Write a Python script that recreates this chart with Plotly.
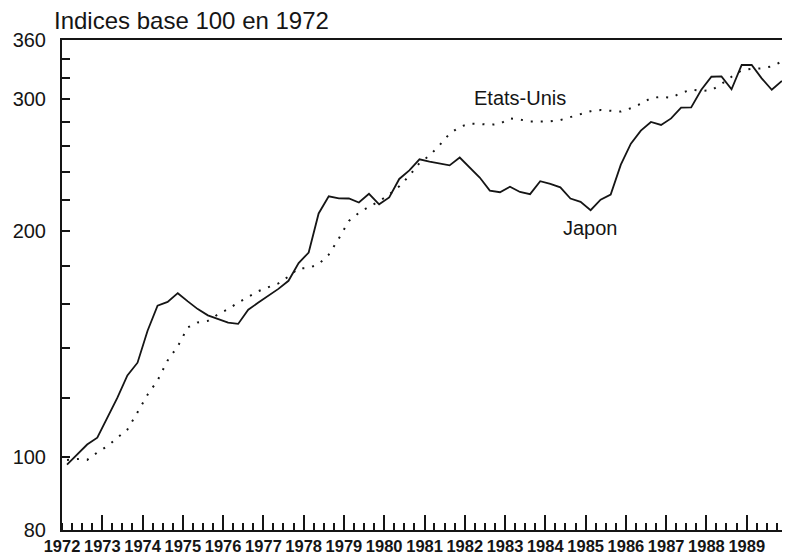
import math
import pandas as pd
import plotly.graph_objects as go

# Indices trimestriels, base 100 en 1972
years = list(range(1972, 1990))

japon = [
    97.8, 101.0, 104.0, 106.2, 113.0, 120.0, 128.6, 133.7,
    147.5, 159.3, 161.1, 165.5, 161.4, 157.6, 154.6, 152.9,
    151.2, 150.6, 157.3, 160.8, 164.0, 167.7, 171.9, 181.5,
    187.5, 211.4, 222.8, 221.4, 221.3, 218.6, 224.5, 217.4,
    222.0, 235.0, 241.3, 249.6, 247.9, 246.3, 245.0, 251.0,
    243.0, 236.0, 226.7, 225.6, 229.5, 225.8, 224.3, 233.4,
    231.4, 229.0, 221.3, 219.0, 213.5, 220.5, 224.0, 245.5,
    261.9, 272.6, 279.9, 277.4, 283.0, 292.6, 292.7, 309.0,
    321.6, 322.0, 309.4, 333.4, 333.4, 320.0, 309.0, 317.6,
]

etats_unis = [
    99.2, 99.5, 99.2, 101.5, 103.5, 106.0, 108.9, 114.8,
    121.2, 126.6, 134.6, 140.6, 149.0, 151.3, 152.0, 155.1,
    157.6, 160.8, 163.5, 166.5, 168.6, 170.5, 174.2, 178.6,
    178.8, 180.9, 186.3, 195.8, 206.6, 211.7, 215.8, 219.4,
    224.0, 229.8, 237.3, 246.8, 252.5, 260.6, 270.0, 275.7,
    278.5, 278.3, 277.4, 278.4, 283.0, 282.0, 280.3, 280.3,
    280.5, 281.6, 284.0, 286.5, 289.3, 290.4, 290.0, 289.0,
    292.0, 296.0, 301.3, 302.4, 301.5, 306.0, 309.0, 308.0,
    308.5, 314.5, 321.6, 328.0, 329.5, 330.0, 332.0, 337.0,
]

y_ticks = [80, 100, 200, 300, 360]
y_minor = list(range(80, 361, 20))

# milieu de chaque trimestre
quarters = pd.period_range("1972Q1", "1989Q4", freq="Q")
x = [(p.start_time + (p.end_time - p.start_time) / 2) for p in quarters]

ink = "#151515"

fig = go.Figure()
fig.add_trace(go.Scatter(
    x=x, y=etats_unis, mode="lines", name="Etats-Unis",
    line=dict(color=ink, width=2, dash="2px,8px"),
))
fig.add_trace(go.Scatter(
    x=x, y=japon, mode="lines", name="Japon",
    line=dict(color=ink, width=1.8),
))

# sur un axe log, la position y d'une annotation est en log10
fig.add_annotation(x="1983-05-15", y=math.log10(301), text="Etats-Unis",
                   showarrow=False, font=dict(size=20, color=ink))
fig.add_annotation(x="1985-02-10", y=math.log10(202), text="Japon",
                   showarrow=False, font=dict(size=20, color=ink))

# la page ajoute une marge de 8 px autour de la figure
fig.update_layout(
    width=782, height=548,
    margin=dict(l=54, r=3, t=32, b=26),
    paper_bgcolor="white", plot_bgcolor="white",
    showlegend=False,
    font=dict(family="Liberation Sans, Arial, sans-serif", color=ink),
    title=dict(text="Indices base 100 en 1972", x=46 / 782, xanchor="left",
               y=1 - 13 / 548, yanchor="middle",
               font=dict(size=24, color=ink)),
    xaxis=dict(
        type="date",
        range=["1972-01-01", "1990-01-01"],
        tickvals=[f"{y}-01-01" for y in years],
        ticktext=[str(y) for y in years],
        ticklabelmode="period",
        tickangle=0,
        automargin=False,
        ticks="inside", ticklen=15, tickwidth=1.5, tickcolor=ink,
        minor=dict(dtick="M3", tick0="1972-01-01", ticks="inside",
                   ticklen=7, tickwidth=1.5, tickcolor=ink),
        showline=True, linecolor=ink, linewidth=2, mirror=True,
        showgrid=False, zeroline=False,
        tickfont=dict(family="Liberation Sans, Arial, sans-serif",
                      size=16.5, color=ink, weight="bold"),
    ),
    yaxis=dict(
        type="log",
        range=[1.90309, 2.5563025],
        tickvals=y_ticks,
        ticktext=[str(v) for v in y_ticks],
        automargin=False,
        ticks="inside", ticklen=8, tickwidth=1.5, tickcolor=ink,
        minor=dict(tickmode="array", tickvals=y_minor, ticks="inside",
                   ticklen=8, tickwidth=1.5, tickcolor=ink),
        showline=True, linecolor=ink, linewidth=2, mirror=True,
        showgrid=False, zeroline=False,
        ticklabelstandoff=10,
        tickfont=dict(size=20, color=ink),
    ),
)

fig.write_html("out.html")
